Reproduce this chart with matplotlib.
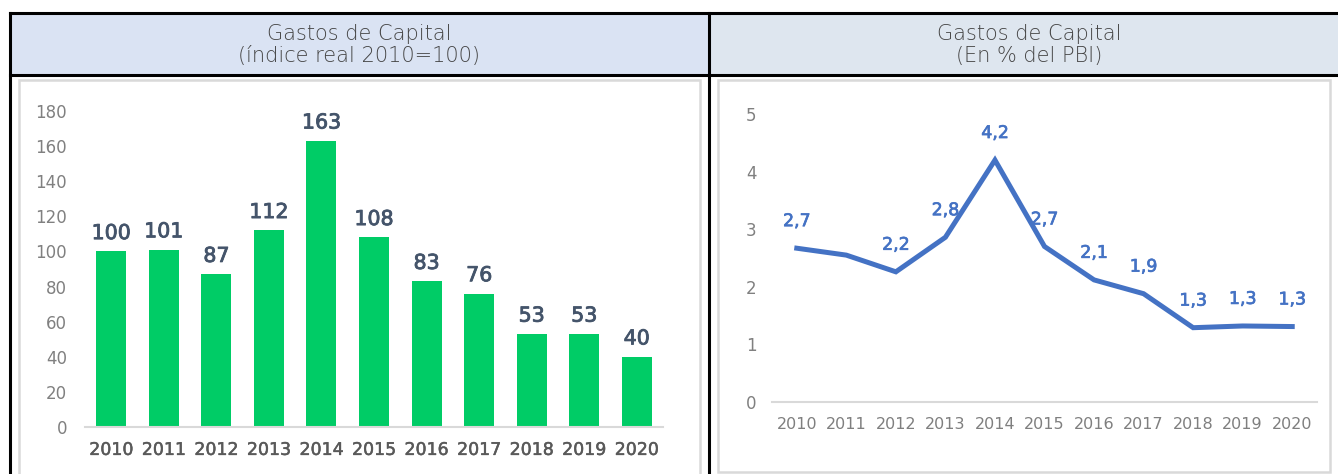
import matplotlib.pyplot as plt
import matplotlib.patheffects as pe
from matplotlib.patches import Rectangle
from matplotlib.lines import Line2D

# --- data ---
years = ["2010", "2011", "2012", "2013", "2014", "2015", "2016", "2017", "2018", "2019", "2020"]
indice_real = [100, 101, 87, 112, 163, 108, 83, 76, 53, 53, 40]
pct_pbi = [2.67, 2.55, 2.26, 2.86, 4.2, 2.7, 2.12, 1.88, 1.29, 1.32, 1.31]
pct_labels = ["2,7", "", "2,2", "2,8", "4,2", "2,7", "2,1", "1,9", "1,3", "1,3", "1,3"]
title_left = "Gastos de Capital\n(índice real 2010=100)"
title_right = "Gastos de Capital\n(En % del PBI)"

W, H = 1338, 474
plt.rcParams["font.family"] = ["DejaVu Sans"]


def fx(px):
    return px / W


def fy(py):
    return 1 - py / H


def medium(color, lw=0.7):
    # slightly heavier than regular, lighter than bold
    return [pe.withStroke(linewidth=lw, foreground=color)]


fig = plt.figure(figsize=(W / 100, H / 100), dpi=100)

# header boxes
fig.patches.append(Rectangle((fx(10), fy(75)), fx(699), fy(13) - fy(75),
                             transform=fig.transFigure, facecolor="#DAE3F3",
                             edgecolor="none", zorder=-2))
fig.patches.append(Rectangle((fx(709), fy(75)), fx(650), fy(13) - fy(75),
                             transform=fig.transFigure, facecolor="#DEE6EF",
                             edgecolor="none", zorder=-2))
# inner light frames
fig.patches.append(Rectangle((fx(19), fy(490)), fx(681), fy(80) - fy(490),
                             transform=fig.transFigure, facecolor="white",
                             edgecolor="#D9D9D9", lw=1.8, zorder=-2))
fig.patches.append(Rectangle((fx(718), fy(472)), fx(612), fy(80) - fy(472),
                             transform=fig.transFigure, facecolor="white",
                             edgecolor="#D9D9D9", lw=1.8, zorder=-2))
# black grid lines
for xs, ys in [([10, 1360], [13, 13]), ([10, 1360], [75, 75]),
               ([10, 10], [13, 480]), ([709, 709], [13, 480])]:
    fig.add_artist(Line2D([fx(x) for x in xs], [fy(y) for y in ys],
                          transform=fig.transFigure, color="black", lw=2.2,
                          zorder=-1))

fig.text(fx(359.5), fy(45), title_left, ha="center", va="center",
         fontsize=15, color="#454545", fontweight="light", linespacing=1.12)
fig.text(fx(1029.5), fy(45), title_right, ha="center", va="center",
         fontsize=15, color="#454545", fontweight="light", linespacing=1.12)

# --- left: bar chart ---
x = list(range(len(years)))
ax1 = fig.add_axes([fx(85), fy(427), fx(578), fy(111) - fy(427)])
ax1.set_zorder(5)
ax1.bar(x, indice_real, width=0.57, color="#00CC66", zorder=2)
for xi, v in zip(x, indice_real):
    ax1.annotate(str(v), (xi, v), xytext=(0, 6), textcoords="offset points",
                 ha="center", va="bottom", fontsize=14.8, color="#44546A",
                 path_effects=medium("#44546A", 0.6))
ax1.set_xlim(-0.5, 10.5)
ax1.set_ylim(0, 180)
ax1.set_yticks(range(0, 181, 20))
ax1.set_xticks(x)
ax1.set_xticklabels(years, fontsize=12.5, color="#595959",
                    path_effects=medium("#595959", 0.35))
ax1.tick_params(axis="y", labelsize=12, labelcolor="#808080", length=0, pad=13)
ax1.tick_params(axis="x", length=0, pad=10)
for s in ["top", "right", "left"]:
    ax1.spines[s].set_visible(False)
ax1.spines["bottom"].set_color("#D9D9D9")
ax1.spines["bottom"].set_linewidth(1.5)
ax1.patch.set_alpha(0)

# --- right: line chart ---
ax2 = fig.add_axes([fx(772), fy(402), fx(545), fy(114) - fy(402)])
ax2.set_zorder(5)
ax2.plot(x, pct_pbi, color="#4472C4", lw=3.6, solid_joinstyle="miter", zorder=3)
for xi, v, lab in zip(x, pct_pbi, pct_labels):
    if lab:
        ax2.annotate(lab, (xi, v), xytext=(0, 13), textcoords="offset points",
                     ha="center", va="bottom", fontsize=12.5, color="#4472C4",
                     path_effects=medium("#4472C4", 0.5))
ax2.set_xlim(-0.5, 10.5)
ax2.set_ylim(0, 5)
ax2.set_yticks(range(0, 6))
ax2.set_xticks(x)
ax2.set_xticklabels(years, fontsize=11.5, color="#7F7F7F")
ax2.tick_params(axis="y", labelsize=12, labelcolor="#808080", length=0, pad=11)
ax2.tick_params(axis="x", length=0, pad=11)
for s in ["top", "right", "left"]:
    ax2.spines[s].set_visible(False)
ax2.spines["bottom"].set_color("#D9D9D9")
ax2.spines["bottom"].set_linewidth(1.5)
ax2.patch.set_alpha(0)

fig.savefig("out.png", dpi=100)
